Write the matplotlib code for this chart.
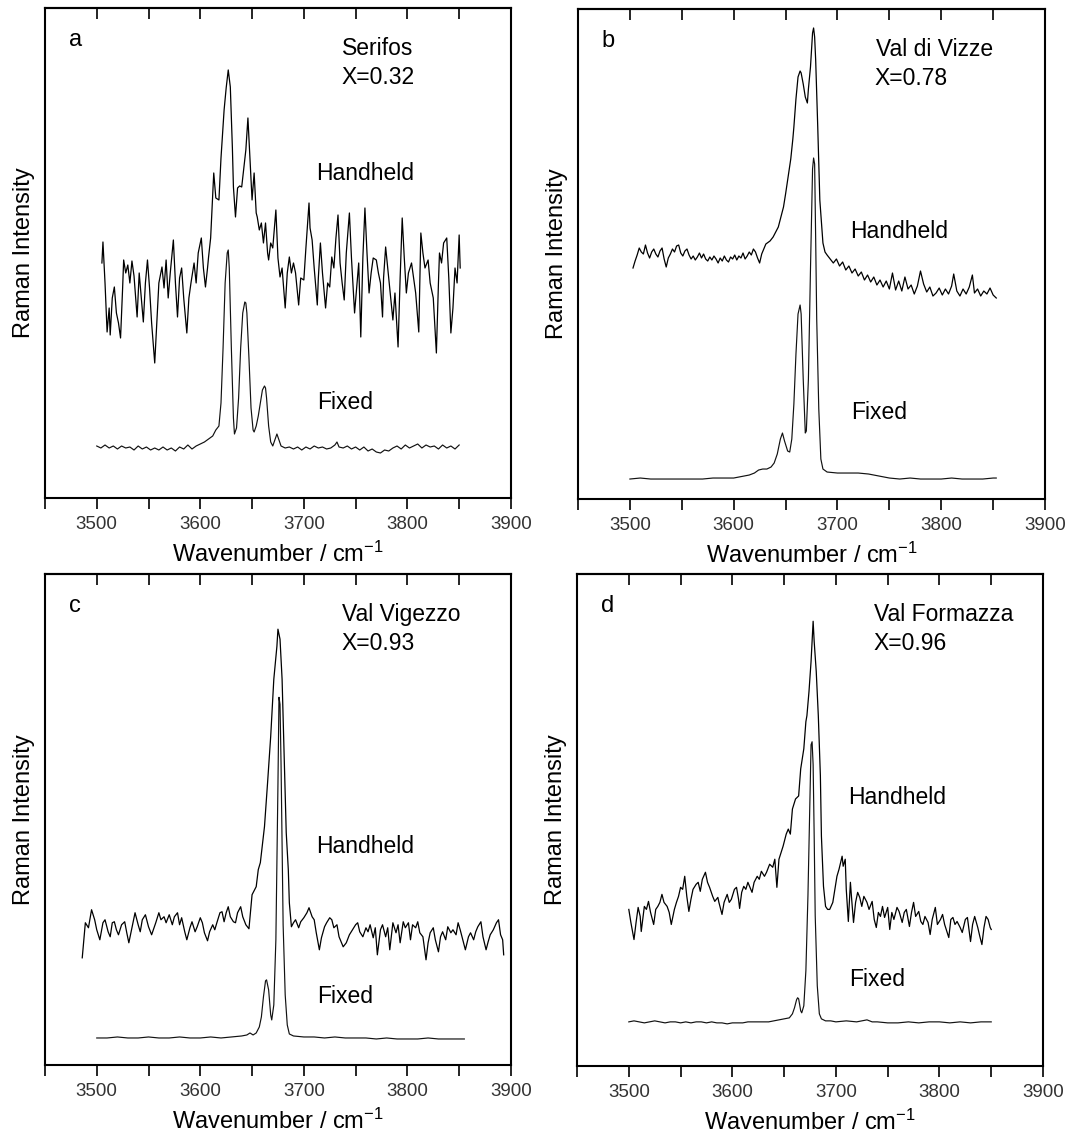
import matplotlib
matplotlib.use('Agg')
import matplotlib.pyplot as plt
from matplotlib.ticker import MultipleLocator

plt.rcParams['font.family'] = ['Liberation Sans', 'DejaVu Sans']
plt.rcParams['mathtext.default'] = 'regular'

# --- data (intensity in arbitrary units, 0 = bottom axis) ---

# (a) Serifos
a_hand_wn = [3505, 3506, 3508, 3510, 3512, 3513, 3515, 3517, 3519, 3521, 3523, 3525, 3526, 3528, 3530,
             3532, 3534, 3536, 3539, 3541, 3543, 3545, 3547, 3549, 3551, 3553, 3556, 3558, 3560, 3563,
             3565, 3567, 3569, 3571, 3574, 3576, 3578, 3580, 3582, 3584, 3587, 3589, 3591, 3594, 3596,
             3598, 3601, 3603, 3605, 3607, 3608, 3610, 3613, 3615, 3618, 3620, 3623, 3625, 3627, 3629,
             3631, 3632, 3634, 3636, 3638, 3640, 3642, 3644, 3646, 3648, 3650, 3652, 3654, 3655, 3657,
             3659, 3661, 3663, 3665, 3666, 3668, 3670, 3673, 3675, 3677, 3679, 3682, 3684, 3686, 3688,
             3690, 3692, 3695, 3697, 3700, 3702, 3705, 3706, 3708, 3710, 3713, 3714, 3716, 3718, 3721,
             3723, 3725, 3727, 3729, 3731, 3733, 3735, 3737, 3739, 3741, 3744, 3746, 3749, 3751, 3753,
             3755, 3757, 3759, 3761, 3763, 3765, 3767, 3770, 3772, 3774, 3776, 3777, 3779, 3781, 3783,
             3786, 3788, 3791, 3793, 3795, 3797, 3799, 3801, 3804, 3806, 3808, 3811, 3813, 3815, 3817,
             3820, 3822, 3825, 3828, 3830, 3831, 3833, 3835, 3838, 3840, 3842, 3844, 3846, 3848, 3850, 3851]
a_hand_int = [235, 256, 215, 166, 190, 163, 200, 211, 185, 175, 160, 210, 238, 225, 233,
              215, 237, 222, 181, 225, 200, 176, 215, 238, 210, 175, 135, 175, 215, 231,
              210, 238, 200, 225, 258, 215, 181, 220, 230, 200, 165, 200, 215, 235, 215,
              245, 260, 230, 211, 230, 241, 260, 325, 300, 298, 340, 388, 410, 428, 411,
              350, 311, 281, 310, 312, 311, 330, 348, 380, 340, 298, 325, 285, 281, 268,
              275, 255, 275, 245, 238, 255, 250, 288, 240, 221, 230, 190, 225, 241, 225,
              235, 225, 193, 220, 218, 250, 295, 270, 258, 230, 193, 220, 255, 225, 190,
              215, 211, 241, 230, 260, 283, 235, 215, 198, 245, 285, 240, 185, 210, 235,
              161, 240, 290, 245, 205, 225, 240, 238, 225, 215, 181, 220, 251, 230, 210,
              178, 205, 151, 220, 280, 240, 205, 225, 235, 220, 205, 166, 265, 245, 230,
              238, 215, 200, 145, 215, 245, 235, 255, 260, 220, 165, 190, 230, 215, 263, 230]
a_fix_wn = [3500, 3504, 3508, 3512, 3516, 3520, 3524, 3528, 3532, 3536, 3540, 3544, 3548, 3552, 3556,
            3560, 3564, 3568, 3572, 3576, 3580, 3584, 3588, 3592, 3596, 3600, 3604, 3608, 3612, 3615,
            3618, 3620, 3622, 3624, 3626, 3627, 3628, 3630, 3632, 3633, 3635, 3637, 3639, 3641, 3643,
            3644, 3645, 3647, 3649, 3651, 3652, 3654, 3656, 3658, 3660, 3662, 3663, 3664, 3666, 3668,
            3670, 3672, 3674, 3676, 3678, 3682, 3686, 3690, 3694, 3698, 3702, 3706, 3710, 3714, 3718,
            3722, 3726, 3730, 3732, 3734, 3738, 3742, 3746, 3750, 3754, 3758, 3762, 3766, 3770, 3774,
            3778, 3782, 3786, 3790, 3794, 3798, 3802, 3806, 3810, 3814, 3818, 3822, 3826, 3830, 3834,
            3838, 3842, 3846, 3850]
a_fix_int = [52, 50, 53, 50, 52, 49, 52, 50, 51, 48, 52, 49, 51, 48, 50,
             48, 51, 48, 50, 47, 51, 49, 53, 49, 52, 54, 56, 59, 62, 68,
             72, 95, 150, 215, 245, 248, 230, 150, 80, 64, 70, 100, 150, 185, 196,
             195, 185, 140, 90, 68, 66, 72, 82, 95, 108, 112, 110, 100, 72, 56,
             52, 58, 64, 58, 52, 50, 51, 49, 51, 48, 51, 49, 52, 50, 51,
             49, 50, 53, 56, 51, 50, 52, 49, 51, 48, 51, 47, 49, 46, 45,
             48, 47, 50, 52, 49, 53, 50, 52, 54, 50, 53, 51, 52, 49, 53,
             50, 52, 49, 53]

# (b) Val di Vizze
b_hand_wn = [3503, 3505, 3507, 3509, 3511, 3513, 3515, 3517, 3519, 3521, 3523, 3525, 3527, 3529, 3531,
             3533, 3535, 3537, 3539, 3541, 3543, 3545, 3547, 3549, 3551, 3553, 3555, 3557, 3559, 3561,
             3563, 3565, 3567, 3569, 3571, 3573, 3575, 3577, 3579, 3581, 3583, 3585, 3587, 3589, 3591,
             3593, 3595, 3597, 3599, 3601, 3603, 3605, 3607, 3609, 3611, 3613, 3615, 3617, 3619, 3621,
             3623, 3625, 3627, 3629, 3631, 3635, 3638, 3641, 3643, 3645, 3648, 3650, 3653, 3655, 3657,
             3658, 3660, 3662, 3664, 3665, 3667, 3669, 3671, 3672, 3674, 3676, 3677, 3678, 3679, 3681,
             3683, 3686, 3688, 3690, 3693, 3696, 3699, 3702, 3705, 3708, 3711, 3714, 3717, 3720, 3723,
             3726, 3729, 3732, 3735, 3738, 3741, 3744, 3747, 3750, 3753, 3756, 3759, 3762, 3765, 3768,
             3771, 3774, 3777, 3780, 3783, 3786, 3789, 3792, 3795, 3798, 3801, 3804, 3807, 3810, 3812,
             3815, 3818, 3821, 3824, 3827, 3830, 3832, 3835, 3838, 3841, 3844, 3847, 3850, 3853]
b_hand_int = [231, 238, 244, 251, 247, 245, 254, 246, 241, 247, 250, 245, 242, 248, 251,
              240, 232, 241, 245, 250, 247, 253, 254, 246, 243, 248, 250, 244, 240, 243,
              239, 242, 246, 241, 245, 240, 238, 242, 239, 243, 240, 236, 241, 238, 243,
              239, 237, 242, 240, 244, 239, 243, 241, 246, 240, 243, 247, 244, 250, 247,
              241, 236, 245, 250, 255, 258, 262, 268, 272, 280, 292, 305, 326, 340, 360,
              372, 400, 422, 428, 426, 415, 402, 396, 410, 432, 466, 471, 462, 439, 372,
              299, 256, 247, 244, 240, 236, 240, 233, 237, 229, 233, 226, 230, 223, 227,
              219, 224, 217, 222, 214, 219, 212, 218, 210, 226, 209, 218, 208, 222, 210,
              214, 205, 213, 228, 215, 207, 212, 203, 206, 211, 204, 210, 205, 213, 225,
              208, 203, 210, 205, 212, 224, 206, 210, 203, 208, 205, 211, 204, 201]
b_fix_wn = [3500, 3510, 3520, 3530, 3540, 3550, 3560, 3570, 3580, 3590, 3600, 3605, 3610, 3615, 3620,
            3624, 3628, 3632, 3636, 3639, 3642, 3645, 3647, 3649, 3652, 3654, 3656, 3658, 3660, 3662,
            3664, 3665, 3667, 3669, 3670, 3672, 3674, 3676, 3677, 3678, 3679, 3680, 3682, 3684, 3686,
            3690, 3700, 3710, 3720, 3730, 3740, 3750, 3760, 3770, 3780, 3790, 3800, 3810, 3820, 3830,
            3840, 3850, 3853]
b_fix_int = [20, 21, 20, 20, 20, 20, 20, 20, 21, 21, 21, 22, 23, 24, 26,
             29, 30, 30, 32, 36, 45, 60, 66, 58, 48, 47, 60, 95, 145, 185,
             194, 185, 120, 66, 68, 120, 230, 330, 341, 335, 260, 180, 90, 40, 30,
             27, 26, 26, 26, 25, 23, 21, 20, 21, 20, 20, 20, 21, 20, 20,
             20, 21, 21]

# (c) Val Vigezzo
c_hand_wn = [3486, 3489, 3492, 3495, 3498, 3500, 3503, 3506, 3508, 3511, 3513, 3515, 3517, 3519, 3521,
             3524, 3527, 3529, 3531, 3534, 3537, 3540, 3542, 3544, 3547, 3550, 3553, 3557, 3560, 3562,
             3565, 3567, 3570, 3573, 3575, 3578, 3580, 3582, 3585, 3587, 3590, 3592, 3595, 3597, 3600,
             3602, 3604, 3607, 3609, 3612, 3614, 3616, 3619, 3621, 3623, 3625, 3627, 3629, 3632, 3634,
             3636, 3639, 3641, 3644, 3647, 3650, 3654, 3656, 3658, 3662, 3665, 3668, 3671, 3674, 3675,
             3677, 3679, 3681, 3683, 3685, 3686, 3688, 3690, 3692, 3695, 3697, 3700, 3703, 3705, 3708,
             3710, 3712, 3715, 3717, 3720, 3722, 3725, 3727, 3729, 3732, 3734, 3738, 3741, 3744, 3747,
             3750, 3752, 3754, 3757, 3760, 3762, 3764, 3767, 3769, 3771, 3774, 3776, 3779, 3781, 3783,
             3786, 3789, 3791, 3793, 3796, 3798, 3801, 3803, 3805, 3808, 3810, 3812, 3815, 3818, 3820,
             3822, 3825, 3827, 3830, 3832, 3834, 3837, 3839, 3842, 3844, 3847, 3849, 3851, 3854, 3856,
             3859, 3861, 3864, 3866, 3868, 3871, 3873, 3876, 3878, 3880, 3883, 3886, 3888, 3890, 3892, 3893]
c_hand_int = [107, 142, 137, 155, 145, 135, 125, 142, 145, 133, 128, 142, 143, 135, 130,
              140, 143, 132, 122, 137, 152, 140, 133, 145, 150, 138, 130, 142, 152, 145,
              148, 142, 150, 140, 148, 152, 140, 147, 133, 125, 137, 143, 133, 138, 147,
              142, 132, 124, 133, 140, 135, 142, 152, 153, 143, 152, 158, 148, 143, 142,
              152, 158, 148, 140, 136, 170, 178, 195, 202, 238, 282, 328, 385, 418, 435,
              425, 385, 308, 232, 195, 162, 138, 142, 145, 137, 143, 147, 152, 157, 148,
              145, 132, 115, 127, 138, 142, 147, 145, 137, 140, 128, 118, 122, 130, 135,
              140, 142, 133, 128, 137, 133, 140, 127, 137, 110, 135, 140, 128, 137, 115,
              142, 132, 140, 122, 143, 137, 142, 125, 140, 137, 143, 132, 128, 105, 122,
              132, 137, 125, 113, 128, 133, 125, 138, 132, 135, 130, 142, 135, 123, 115,
              128, 132, 125, 133, 138, 143, 128, 115, 123, 130, 135, 142, 145, 130, 125, 110]
c_fix_wn = [3500, 3510, 3520, 3530, 3540, 3550, 3560, 3570, 3580, 3590, 3600, 3610, 3620, 3630, 3640,
            3645, 3648, 3651, 3654, 3657, 3659, 3661, 3663, 3664, 3666, 3668, 3669, 3671, 3673, 3675,
            3676, 3677, 3678, 3680, 3682, 3684, 3686, 3690, 3700, 3710, 3720, 3730, 3740, 3750, 3760,
            3770, 3780, 3790, 3800, 3810, 3820, 3830, 3840, 3850, 3855]
c_fix_int = [27, 27, 28, 27, 27, 28, 27, 27, 28, 27, 27, 28, 27, 28, 29,
             30, 32, 30, 32, 38, 48, 68, 84, 85, 75, 50, 45, 60, 125, 280,
             367, 360, 300, 140, 70, 40, 31, 29, 28, 28, 27, 28, 27, 27, 27,
             26, 27, 26, 26, 26, 27, 26, 26, 26, 26]

# (d) Val Formazza
d_hand_wn = [3500, 3502, 3505, 3507, 3509, 3511, 3512, 3515, 3517, 3519, 3521, 3524, 3526, 3528, 3530,
             3532, 3534, 3537, 3539, 3541, 3544, 3546, 3548, 3550, 3552, 3554, 3556, 3558, 3560, 3562,
             3565, 3567, 3569, 3571, 3574, 3576, 3578, 3581, 3583, 3586, 3587, 3590, 3592, 3595, 3597,
             3599, 3602, 3604, 3606, 3607, 3609, 3611, 3613, 3615, 3617, 3619, 3621, 3624, 3626, 3628,
             3631, 3633, 3636, 3639, 3641, 3643, 3645, 3649, 3652, 3654, 3656, 3658, 3661, 3664, 3666,
             3669, 3671, 3672, 3674, 3676, 3678, 3679, 3681, 3683, 3685, 3686, 3688, 3690, 3692, 3694,
             3697, 3699, 3701, 3703, 3706, 3707, 3709, 3710, 3712, 3714, 3715, 3717, 3719, 3721, 3723,
             3725, 3727, 3730, 3732, 3735, 3737, 3739, 3741, 3743, 3745, 3747, 3750, 3752, 3754, 3756,
             3759, 3761, 3764, 3766, 3768, 3771, 3773, 3775, 3777, 3780, 3782, 3784, 3786, 3789, 3791,
             3793, 3796, 3798, 3801, 3803, 3805, 3809, 3811, 3813, 3815, 3817, 3820, 3822, 3825, 3827,
             3830, 3832, 3834, 3837, 3839, 3841, 3843, 3845, 3847, 3849, 3850]
d_hand_int = [156, 143, 126, 143, 158, 149, 134, 159, 156, 164, 153, 141, 156, 159, 163,
              171, 163, 159, 153, 141, 156, 163, 169, 178, 176, 189, 169, 154, 166, 176,
              181, 183, 174, 186, 193, 183, 178, 169, 164, 168, 163, 151, 163, 171, 163,
              166, 176, 178, 166, 157, 173, 179, 176, 183, 178, 173, 183, 189, 186, 194,
              189, 193, 201, 198, 206, 178, 206, 219, 231, 236, 231, 256, 266, 269, 296,
              316, 343, 349, 373, 403, 443, 423, 393, 349, 289, 229, 179, 159, 156, 156,
              163, 176, 189, 196, 209, 199, 206, 176, 144, 183, 169, 143, 163, 173, 168,
              159, 169, 163, 156, 164, 146, 138, 153, 149, 159, 148, 158, 136, 153, 146,
              158, 154, 143, 153, 156, 139, 153, 163, 149, 154, 144, 141, 149, 143, 131,
              146, 158, 141, 146, 151, 141, 128, 146, 148, 141, 144, 138, 133, 146, 148,
              124, 141, 149, 138, 129, 121, 138, 149, 146, 138, 136]
d_fix_wn = [3500, 3505, 3510, 3515, 3520, 3525, 3530, 3535, 3540, 3545, 3550, 3555, 3560, 3565, 3570,
            3575, 3580, 3585, 3590, 3595, 3600, 3605, 3610, 3615, 3620, 3625, 3630, 3635, 3640, 3645,
            3650, 3655, 3658, 3660, 3662, 3663, 3664, 3666, 3667, 3669, 3671, 3673, 3675, 3676, 3677,
            3678, 3679, 3680, 3682, 3684, 3686, 3690, 3695, 3700, 3710, 3720, 3730, 3735, 3740, 3750,
            3760, 3770, 3780, 3790, 3800, 3810, 3820, 3830, 3840, 3850]
d_fix_int = [44, 45, 44, 43, 44, 45, 44, 43, 44, 44, 43, 44, 43, 44, 44,
             43, 44, 43, 43, 42, 43, 43, 43, 44, 44, 44, 44, 44, 45, 46,
             47, 48, 52, 58, 66, 68, 67, 55, 53, 60, 95, 170, 270, 320, 323,
             300, 230, 150, 80, 52, 47, 45, 45, 44, 45, 44, 46, 44, 44, 43,
             43, 44, 43, 44, 44, 43, 44, 43, 44, 44]

panels = [
    ('a', 'Serifos', 'X=0.32', a_hand_wn, a_hand_int, a_fix_wn, a_fix_int, 318, 89),
    ('b', 'Val di Vizze', 'X=0.78', b_hand_wn, b_hand_int, b_fix_wn, b_fix_int, 261, 80),
    ('c', 'Val Vigezzo', 'X=0.93', c_hand_wn, c_hand_int, c_fix_wn, c_fix_int, 212, 62),
    ('d', 'Val Formazza', 'X=0.96', d_hand_wn, d_hand_int, d_fix_wn, d_fix_int, 261, 80),
]

# axes rectangles in figure fractions (left, bottom, width, height)
rects = [
    (0.0421, 0.5620, 0.4363, 0.4310),
    (0.5412, 0.5611, 0.4373, 0.4310),
    (0.0421, 0.0633, 0.4363, 0.4318),
    (0.5403, 0.0624, 0.4363, 0.4327),
]

fig = plt.figure(figsize=(10.68, 11.37), dpi=100)

for (lab, site, xval, hw, hi, fw, fi, y_hand, y_fix), rect in zip(panels, rects):
    ax = fig.add_axes(rect)
    ax.plot(hw, hi, color='black', lw=0.9)
    ax.plot(fw, fi, color='#111111', lw=0.85)
    ax.set_xlim(3450, 3900)
    ax.set_ylim(0, 490)
    ax.set_yticks([])
    ax.xaxis.set_major_locator(MultipleLocator(100))
    ax.xaxis.set_minor_locator(MultipleLocator(50))
    ax.tick_params(axis='x', which='both', direction='out', length=8, width=1.2,
                   labelsize=13.5, labelcolor='#333333', pad=5)
    for s in ax.spines.values():
        s.set_linewidth(1.5)

    top = ax.secondary_xaxis('top')
    top.xaxis.set_major_locator(MultipleLocator(50))
    top.tick_params(axis='x', direction='in', length=8, width=1.2, labeltop=False)
    top.spines['top'].set_linewidth(1.5)

    ax.set_xlabel('Wavenumber / cm$^{-1}$', fontsize=17, labelpad=6)
    ax.set_ylabel('Raman Intensity', fontsize=17, labelpad=7)

    ax.text(3473, 452, lab, fontsize=17, va='baseline')
    ax.text(3737, 443, site, fontsize=16.5, va='baseline')
    ax.text(3736, 414, xval, fontsize=16.5, va='baseline')
    ax.text(3712, y_hand, 'Handheld', fontsize=16.5, va='baseline')
    ax.text(3713, y_fix, 'Fixed', fontsize=16.5, va='baseline')

fig.savefig('out.png', dpi=100)
